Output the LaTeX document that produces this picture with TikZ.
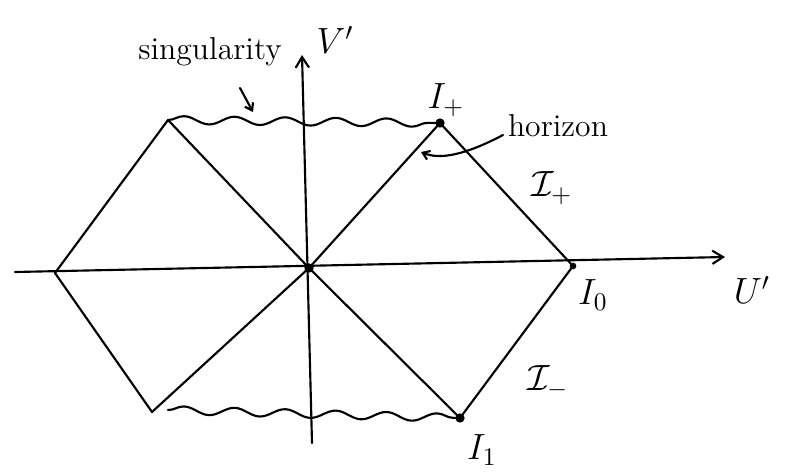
\documentclass[tikz,border=0pt]{standalone}
\usetikzlibrary{decorations.pathmorphing,arrows.meta}
\begin{document}
\begin{tikzpicture}[x=0.75pt,y=-0.75pt,
  pen/.style={line width=1.6pt,line cap=round,line join=round},
  sing/.style={pen,decorate,decoration={snake,segment length=38,amplitude=3}},
  axis/.style={pen,-{Straight Barb[length=8pt,width=10pt]}},
  dot/.style={circle,fill,inner sep=0pt,minimum size=7pt},
  lbl/.style={font=\Large,scale=1.65},
  mlbl/.style={font=\Large,scale=1.9}]
\useasboundingbox (0,0) rectangle (786,472);
% points
\coordinate (O) at (309,268);
\coordinate (L) at (55,273);
\coordinate (R) at (573,266);
\coordinate (TL) at (168,120);
\coordinate (TR) at (440,123);
\coordinate (BL) at (152,412);
\coordinate (BR) at (460,418);
\coordinate (Hs) at (15,272);
\coordinate (He) at (725,257);
\coordinate (Vs) at (312,443);
\coordinate (Ve) at (302,55);
% axes
\draw[axis] (Hs) -- (He);
\draw[axis] (Vs) -- (Ve);
% diagonals
\draw[pen] (TL) -- (O) -- (BR);
\draw[pen] (TR) -- (O) -- (BL);
% outer edges
\draw[pen] (TL) -- (L) -- (BL);
\draw[pen] (TR) -- (R) -- (BR);
% singularities
\draw[sing] (TL) -- (TR);
\draw[sing] (168,410) -- (BR);
% dots
\node[dot] (dO) at (O) {};
\node[dot] (dTR) at (TR) {};
\node[dot,minimum size=5pt] (dR) at (R) {};
\node[dot] (dBR) at (BR) {};
% labels
\node[lbl] (sing) at (210,52) {singularity};
\node[mlbl] (Vp) at (335,40) {$V'$};
\node[mlbl] (Ip) at (446,100) {$I_+$};
\node[lbl] (hor) at (558,126) {horizon};
\node[mlbl] (scrp) at (552,188) {$\mathcal{I}_+$};
\node[mlbl] (I0) at (593,295) {$I_0$};
\node[mlbl] (Up) at (752,290) {$U'$};
\node[mlbl] (scrm) at (548,382) {$\mathcal{I}_-$};
\node[mlbl] (I1) at (482,450) {$I_1$};
% arrows
\coordinate (sa) at (240,88);
\coordinate (sb) at (253,112);
\draw[pen,-{Straight Barb[length=5pt,width=7pt]}] (sa) -- (sb);
\coordinate (ha) at (503,135);
\coordinate (hb) at (421,152);
\draw[pen,-{Straight Barb[length=5pt,width=7pt]}] (ha) .. controls (465,155) and (440,160) .. (hb);
\end{tikzpicture}
\end{document}
